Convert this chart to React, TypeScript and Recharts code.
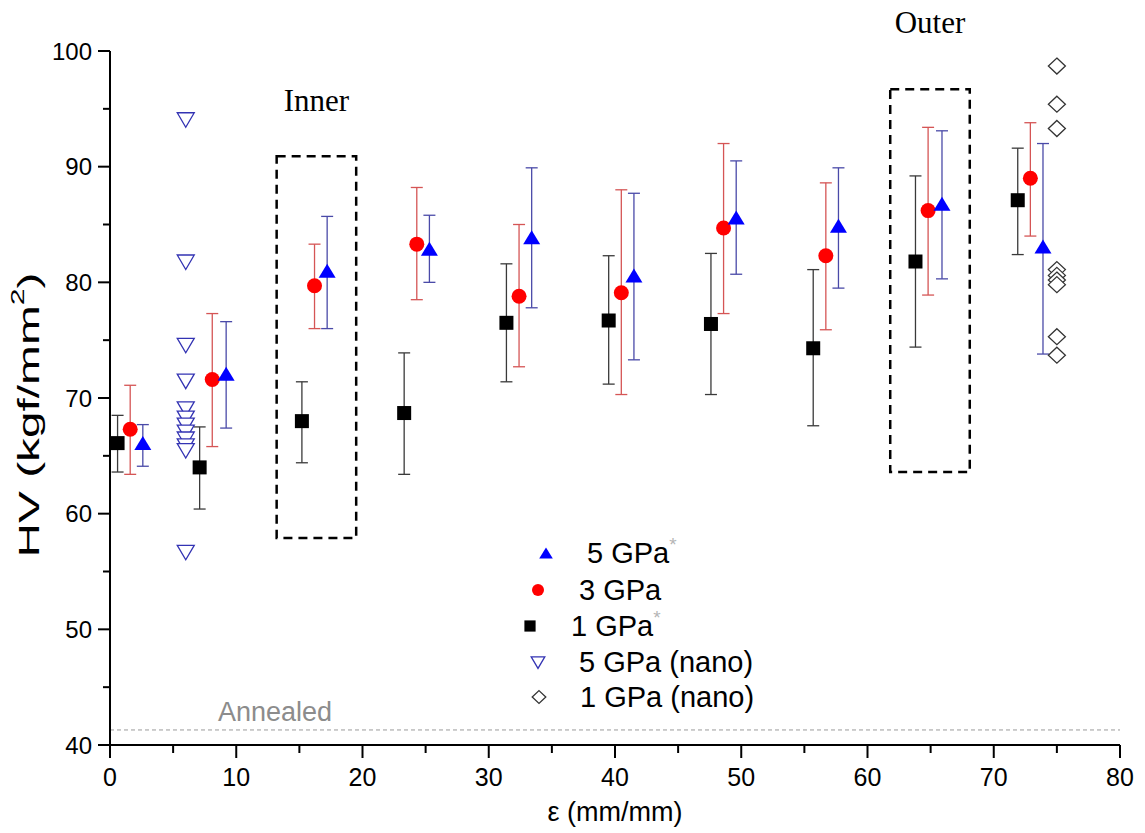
import React from 'react';
import {
    ScatterChart,
    Scatter,
    XAxis,
    YAxis,
    ErrorBar,
    ReferenceArea,
    ReferenceLine,
    Legend,
    Label,
} from 'recharts';

const SANS = "'Liberation Sans', Arial, sans-serif";
const SERIF = "'Liberation Serif', 'Times New Roman', serif";

// 5 GPa* (blue triangles)
const strain5 = [2.6, 9.2, 17.2, 25.3, 33.4, 41.5, 49.6, 57.7, 65.9, 73.9];
const hv5 = [66.1, 72.1, 81.0, 82.9, 83.9, 80.6, 85.6, 84.9, 86.8, 83.1];
const hv5Hi = [67.7, 76.6, 85.7, 85.8, 89.9, 87.7, 90.5, 89.9, 93.1, 92.0];
const hv5Lo = [64.1, 67.4, 76.0, 80.0, 77.8, 73.3, 80.7, 79.5, 80.3, 73.8];

// 3 GPa (red circles)
const strain3 = [1.6, 8.1, 16.2, 24.3, 32.4, 40.5, 48.6, 56.7, 64.8, 72.9];
const hv3 = [67.3, 71.6, 79.7, 83.3, 78.8, 79.1, 84.7, 82.3, 86.2, 89.0];
const hv3Hi = [71.1, 77.3, 83.3, 88.2, 85.0, 88.0, 92.0, 88.6, 93.4, 93.8];
const hv3Lo = [63.4, 65.8, 76.0, 78.5, 72.7, 70.3, 77.3, 75.9, 78.9, 84.0];

// 1 GPa* (black squares)
const strain1 = [0.6, 7.1, 15.2, 23.3, 31.4, 39.5, 47.6, 55.7, 63.8, 71.9];
const hv1 = [66.1, 64.0, 68.0, 68.7, 76.5, 76.7, 76.4, 74.3, 81.8, 87.1];
const hv1Hi = [68.5, 67.5, 71.4, 73.9, 81.6, 82.3, 82.5, 81.1, 89.2, 91.6];
const hv1Lo = [63.6, 60.4, 64.4, 63.4, 71.4, 71.2, 70.3, 67.6, 74.4, 82.4];

// nano samples, single strain each
const nano5Strain = 6.0;
const nano5 = [94.1, 81.8, 74.6, 71.5, 69.1, 68.3, 67.7, 67.1, 66.5, 65.9, 65.5, 56.7];
const nano1Strain = 75.0;
const nano1 = [98.7, 95.4, 93.3, 81.1, 80.6, 80.2, 79.8, 75.3, 73.7];

const annealed = 41.3;
const xTicks = [0, 5, 10, 15, 20, 25, 30, 35, 40, 45, 50, 55, 60, 65, 70, 75, 80];
const yTicks = [40, 45, 50, 55, 60, 65, 70, 75, 80, 85, 90, 95, 100];

const withErr = (xs: number[], ys: number[], hi: number[], lo: number[]) =>
    xs.map((x, i) => ({ x, y: ys[i], err: [ys[i] - lo[i], hi[i] - ys[i]] }));

const data5 = withErr(strain5, hv5, hv5Hi, hv5Lo);
const data3 = withErr(strain3, hv3, hv3Hi, hv3Lo);
const data1 = withErr(strain1, hv1, hv1Hi, hv1Lo);
const dataNano5 = nano5.map((y) => ({ x: nano5Strain, y }));
const dataNano1 = nano1.map((y) => ({ x: nano1Strain, y }));

// marker shapes, s scales them (legend uses smaller ones)
const TriUp = ({ cx, cy, s = 1 }: any) => (
    <polygon points={`${cx},${cy - 7 * s} ${cx + 8.5 * s},${cy + 7 * s} ${cx - 8.5 * s},${cy + 7 * s}`} fill="#0000ff" />
);
const Dot = ({ cx, cy, s = 1 }: any) => <circle cx={cx} cy={cy} r={7.5 * s} fill="#ff0000" />;
const Square = ({ cx, cy, s = 1 }: any) => (
    <rect x={cx - 7 * s} y={cy - 7 * s} width={14 * s} height={14 * s} fill="#000" />
);
const TriDown = ({ cx, cy, s = 1 }: any) => (
    <polygon
        points={`${cx - 8.5 * s},${cy - 6.5 * s} ${cx + 8.5 * s},${cy - 6.5 * s} ${cx},${cy + 8 * s}`}
        fill="#fff"
        stroke="#3333b3"
        strokeWidth={1.3}
    />
);
const Diamond = ({ cx, cy, s = 1 }: any) => (
    <polygon
        points={`${cx},${cy - 8 * s} ${cx + 8.5 * s},${cy} ${cx},${cy + 8 * s} ${cx - 8.5 * s},${cy}`}
        fill="#fff"
        stroke="#333"
        strokeWidth={1.3}
    />
);

const XTick = ({ x, y, payload }: any) => {
    const major = payload.value % 10 === 0;
    return (
        <g>
            <line x1={x} x2={x} y1={y} y2={y + (major ? 13 : 8)} stroke="#000" strokeWidth={2} />
            {major && (
                <text x={x} y={y + 32} textAnchor="middle" dominantBaseline="central" fontSize={25} fontFamily={SANS} fill="#000">
                    {payload.value}
                </text>
            )}
        </g>
    );
};

const YTick = ({ x, y, payload }: any) => {
    const major = payload.value % 10 === 0;
    return (
        <g>
            <line x1={x} x2={x - (major ? 12 : 7)} y1={y} y2={y} stroke="#000" strokeWidth={2} />
            {major && (
                <text x={x - 18} y={y} textAnchor="end" dominantBaseline="central" fontSize={24} fontFamily={SANS} fill="#000">
                    {payload.value}
                </text>
            )}
        </g>
    );
};

const YLabel = ({ viewBox }: any) => {
    const cx = viewBox.x + 15;
    const cy = viewBox.y + viewBox.height / 2 + 17;
    return (
        <text
            x={cx}
            y={cy}
            transform={`rotate(-90, ${cx}, ${cy})`}
            textAnchor="middle"
            dominantBaseline="central"
            fontSize={30}
            fontFamily={SANS}
            fill="#000"
            textLength={285}
            lengthAdjust="spacingAndGlyphs"
        >
            HV (kgf/mm<tspan dy={-11} fontSize={19}>2</tspan>
            <tspan dy={11}>)</tspan>
        </text>
    );
};

const XLabel = ({ viewBox }: any) => (
    <text x={viewBox.x + viewBox.width / 2} y={viewBox.y + 67} textAnchor="middle" dominantBaseline="central" fontSize={27} fontFamily={SANS} fill="#000">
        ε (mm/mm)
    </text>
);

const AnnealedLabel = ({ viewBox }: any) => (
    <text x={viewBox.x + 108} y={viewBox.y - 18} dominantBaseline="central" fontSize={27} fontFamily={SANS} fill="#8c8c8c">
        Annealed
    </text>
);

// legend rows are slightly staggered like the original figure
const legendRows = [
    { name: '5 GPa', star: true, mx: 31, tx: 72, y: 18, Marker: TriUp },
    { name: '3 GPa', star: false, mx: 23, tx: 64, y: 55, Marker: Dot },
    { name: '1 GPa', star: true, mx: 15, tx: 56, y: 91, Marker: Square },
    { name: '5 GPa (nano)', star: false, mx: 23, tx: 64, y: 127, Marker: TriDown },
    { name: '1 GPa (nano)', star: false, mx: 24, tx: 65, y: 162, Marker: Diamond },
];

const renderLegend = () => (
    <svg width={280} height={185}>
        {legendRows.map(({ name, star, mx, tx, y, Marker }) => (
            <g key={name}>
                <Marker cx={mx} cy={y} s={0.8} />
                <text x={tx} y={y} dominantBaseline="central" fontSize={29} fontFamily={SANS} fill="#000">
                    {name}
                    {star && (
                        <tspan dy={-9} fontSize={19} fill="#b5b5b5">
                            *
                        </tspan>
                    )}
                </text>
            </g>
        ))}
    </svg>
);

export default function App() {
    return (
        <div style={{ position: 'absolute', left: 0, top: 0, width: 1145, height: 833 }}>
            <ScatterChart width={1145} height={833} margin={{ top: 51, right: 25, left: 13, bottom: 8 }}>
                <XAxis
                    type="number"
                    dataKey="x"
                    domain={[0, 80]}
                    ticks={xTicks}
                    interval={0}
                    height={80}
                    tickSize={0}
                    tickMargin={0}
                    tickLine={false}
                    axisLine={{ stroke: '#000', strokeWidth: 2 }}
                    tick={<XTick />}
                >
                    <Label content={<XLabel />} />
                </XAxis>
                <YAxis
                    type="number"
                    dataKey="y"
                    domain={[40, 100]}
                    ticks={yTicks}
                    interval={0}
                    width={97}
                    tickSize={0}
                    tickMargin={0}
                    tickLine={false}
                    axisLine={{ stroke: '#000', strokeWidth: 2 }}
                    tick={<YTick />}
                >
                    <Label content={<YLabel />} />
                </YAxis>
                <ReferenceLine
                    y={annealed}
                    stroke="#9a9a9a"
                    strokeDasharray="4 3"
                    strokeWidth={1}
                    label={<AnnealedLabel />}
                />
                <ReferenceArea
                    x1={13.2}
                    x2={19.5}
                    y1={57.9}
                    y2={90.9}
                    fill="none"
                    stroke="#000"
                    strokeWidth={2.5}
                    strokeDasharray="9 6"
                    ifOverflow="visible"
                    label={{ value: 'Inner', position: 'top', offset: 45, fontSize: 31, fontFamily: SERIF, fill: '#000' }}
                />
                <ReferenceArea
                    x1={61.8}
                    x2={68.1}
                    y1={63.6}
                    y2={96.7}
                    fill="none"
                    stroke="#000"
                    strokeWidth={2.5}
                    strokeDasharray="9 6"
                    ifOverflow="visible"
                    label={{ value: 'Outer', position: 'top', offset: 56, fontSize: 31, fontFamily: SERIF, fill: '#000' }}
                />
                <Scatter name="1 GPa" data={data1} shape={<Square />} isAnimationActive={false}>
                    <ErrorBar dataKey="err" direction="y" width={6} stroke="#3a3a3a" strokeWidth={1.3} />
                </Scatter>
                <Scatter name="3 GPa" data={data3} shape={<Dot />} isAnimationActive={false}>
                    <ErrorBar dataKey="err" direction="y" width={6} stroke="#d55555" strokeWidth={1.3} />
                </Scatter>
                <Scatter name="5 GPa" data={data5} shape={<TriUp />} isAnimationActive={false}>
                    <ErrorBar dataKey="err" direction="y" width={6} stroke="#4a4aa8" strokeWidth={1.3} />
                </Scatter>
                <Scatter name="5 GPa (nano)" data={dataNano5} shape={<TriDown />} isAnimationActive={false} />
                <Scatter name="1 GPa (nano)" data={dataNano1} shape={<Diamond />} isAnimationActive={false} />
                <Legend
                    layout="vertical"
                    align="center"
                    verticalAlign="middle"
                    content={renderLegend}
                    wrapperStyle={{ left: 515, top: 535, width: 280, height: 185 }}
                />
            </ScatterChart>
        </div>
    );
}
